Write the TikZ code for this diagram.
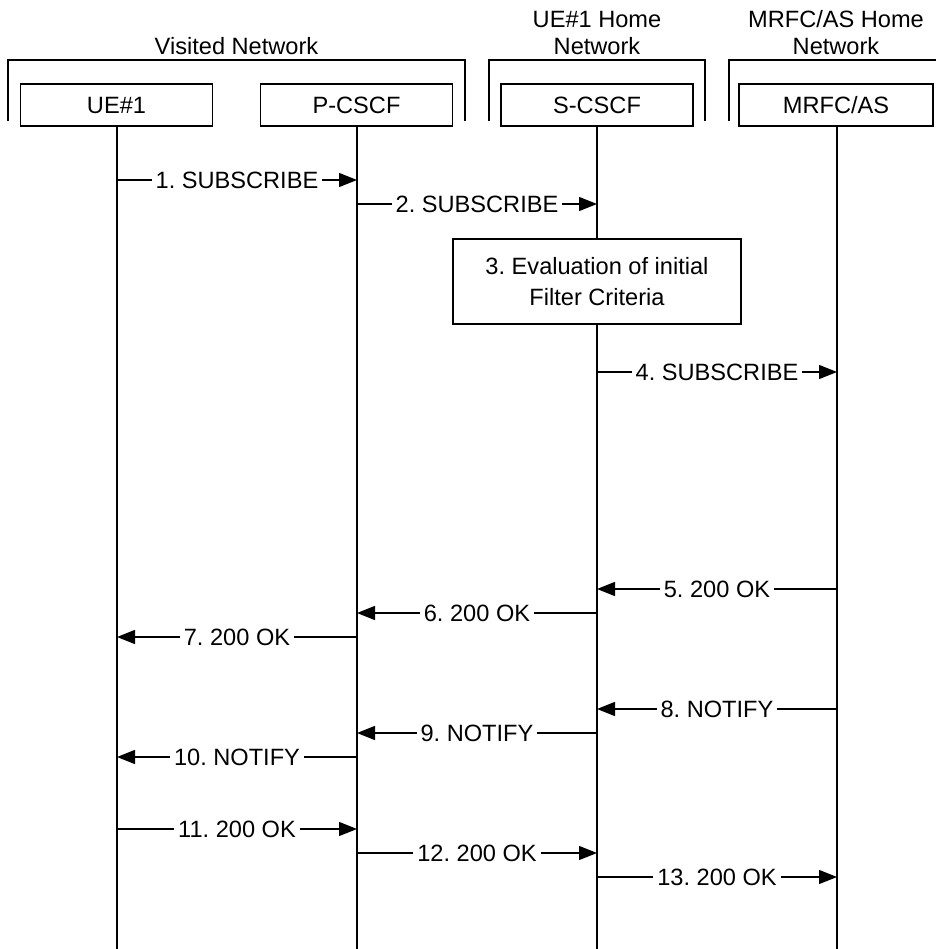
\documentclass[tikz,border=0pt]{standalone}
\usepackage{fontspec}
\setmainfont{Liberation Sans}
\usetikzlibrary{arrows.meta}
\tikzset{
  ln/.style={line width=1.2pt},
  ent/.style={draw, line width=1.2pt, rectangle, minimum width=192pt, minimum height=42pt, inner sep=0pt, text height=0.716em, text depth=0pt},
  msg/.style={line width=1.2pt, -{Triangle[length=18pt,width=14pt]}},
  lbl/.style={fill=white, inner xsep=4pt, inner ysep=1pt, text height=0.716em, text depth=0pt},
  netlbl/.style={anchor=base, inner sep=0pt},
  evalbox/.style={draw, fill=white, line width=1.2pt, rectangle, minimum width=288pt, minimum height=85pt, align=center, inner sep=0pt}
}
\begin{document}
\frenchspacing
\begin{tikzpicture}[x=1pt,y=-1pt]
\fontsize{23.6}{28}\selectfont
\useasboundingbox (0,0) rectangle (936,949);
% network brackets
\draw[ln] (8,121) -- (8,60) -- (465,60) -- (465,121);
\draw[ln] (489,121) -- (489,60) -- (705,60) -- (705,121);
\draw[ln] (729,121) -- (729,60) -- (936,60);
\node[netlbl] (vn) at (236.5,55) {Visited Network};
\node[netlbl] (hn1) at (597,27.5) {UE\#1 Home};
\node[netlbl] (hn2) at (597,55) {Network};
\node[netlbl] (mn1) at (836,27.5) {MRFC/AS Home};
\node[netlbl] (mn2) at (836,55) {Network};
% entities
\node[ent] (UE) at (116.5,105) {UE\#1};
\node[ent] (PC) at (356.5,105) {P-CSCF};
\node[ent] (SC) at (597,105) {S-CSCF};
\node[ent, minimum width=194pt] (AS) at (836,105) {MRFC/AS};
% lifeline ends
\coordinate (UEb) at (117,949);
\coordinate (PCb) at (357,949);
\coordinate (SCb) at (597,949);
\coordinate (ASb) at (837,949);
\coordinate (UEt) at (117,126);
\coordinate (PCt) at (357,126);
\coordinate (SCt) at (597,126);
\coordinate (ASt) at (837,126);
\draw[ln] (UEt) -- (UEb);
\draw[ln] (PCt) -- (PCb);
\draw[ln] (SCt) -- (SCb);
\draw[ln] (ASt) -- (ASb);
% message levels
\coordinate (y1) at (0,180);
\coordinate (y2) at (0,204);
\coordinate (y4) at (0,372);
\coordinate (y5) at (0,589);
\coordinate (y6) at (0,613);
\coordinate (y7) at (0,637);
\coordinate (y8) at (0,709);
\coordinate (y9) at (0,733);
\coordinate (y10) at (0,757);
\coordinate (y11) at (0,829);
\coordinate (y12) at (0,853);
\coordinate (y13) at (0,877);
\draw[msg] (UEt |- y1) -- node[lbl] (l1) {1. SUBSCRIBE} (PCt |- y1);
\draw[msg] (PCt |- y2) -- node[lbl] (l2) {2. SUBSCRIBE} (SCt |- y2);
\node[evalbox] (ev) at (597,281.5) {3. Evaluation of initial\\[3pt]Filter Criteria};
\draw[msg] (SCt |- y4) -- node[lbl] (l4) {4. SUBSCRIBE} (ASt |- y4);
\draw[msg] (ASt |- y5) -- node[lbl] (l5) {5. 200 OK} (SCt |- y5);
\draw[msg] (SCt |- y6) -- node[lbl] (l6) {6. 200 OK} (PCt |- y6);
\draw[msg] (PCt |- y7) -- node[lbl] (l7) {7. 200 OK} (UEt |- y7);
\draw[msg] (ASt |- y8) -- node[lbl] (l8) {8. NOTIFY} (SCt |- y8);
\draw[msg] (SCt |- y9) -- node[lbl] (l9) {9. NOTIFY} (PCt |- y9);
\draw[msg] (PCt |- y10) -- node[lbl] (l10) {10. NOTIFY} (UEt |- y10);
\draw[msg] (UEt |- y11) -- node[lbl] (l11) {11. 200 OK} (PCt |- y11);
\draw[msg] (PCt |- y12) -- node[lbl] (l12) {12. 200 OK} (SCt |- y12);
\draw[msg] (SCt |- y13) -- node[lbl] (l13) {13. 200 OK} (ASt |- y13);
\end{tikzpicture}
\end{document}
